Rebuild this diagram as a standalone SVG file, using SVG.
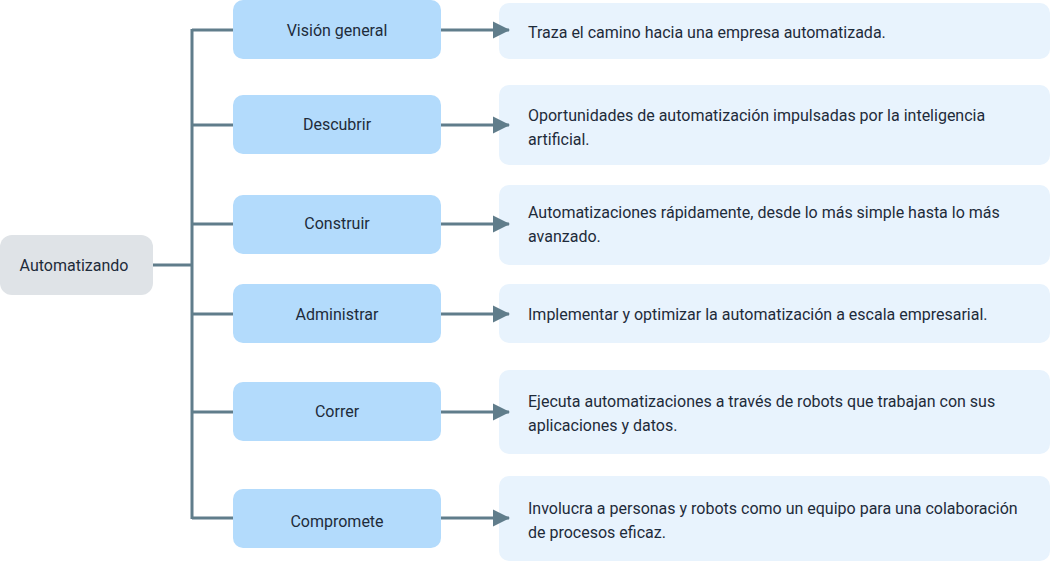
<svg xmlns="http://www.w3.org/2000/svg" width="1050" height="561" viewBox="0 0 1050 561">
<defs>
<style>
.root{fill:#dfe3e7}
.mid{fill:#b3dbfc}
.desc{fill:#e8f3fd}
text{font-family:Roboto,"Liberation Sans",sans-serif;font-size:16px;fill:#1e2b3a}
.c{text-anchor:middle}
.ln{stroke:#607d8b;stroke-width:3;fill:none}
</style>
<marker id="ah" markerWidth="17" markerHeight="18" refX="16" refY="9" orient="auto" markerUnits="userSpaceOnUse">
<path d="M0,0.5 L17,9 L0,17.5 z" fill="#607d8b"/>
</marker>
</defs>
<rect width="1050" height="561" fill="#fff"/>
<g id="n-root"><rect class="root" x="0" y="235" width="153" height="60" rx="12"/><text class="c" x="74" y="271">Automatizando</text></g>
<g id="n-vision"><rect class="mid" x="233" y="0" width="208" height="59" rx="10"/><text class="c" x="337" y="36">Visión general</text></g>
<g id="n-descubrir"><rect class="mid" x="233" y="95" width="208" height="59" rx="10"/><text class="c" x="337" y="130">Descubrir</text></g>
<g id="n-construir"><rect class="mid" x="233" y="195" width="208" height="59" rx="10"/><text class="c" x="337" y="229">Construir</text></g>
<g id="n-administrar"><rect class="mid" x="233" y="284" width="208" height="59" rx="10"/><text class="c" x="337" y="320">Administrar</text></g>
<g id="n-correr"><rect class="mid" x="233" y="382" width="208" height="59" rx="10"/><text class="c" x="337" y="417">Correr</text></g>
<g id="n-comprometer"><rect class="mid" x="233" y="489" width="208" height="59" rx="10"/><text class="c" x="337" y="527">Compromete</text></g>
<g id="d-vision"><rect class="desc" x="499" y="3" width="551" height="56" rx="10"/><text x="528" y="38">Traza el camino hacia una empresa automatizada.</text></g>
<g id="d-descubrir"><rect class="desc" x="499" y="85" width="551" height="80" rx="10"/><text x="528" y="121">Oportunidades de automatización impulsadas por la inteligencia</text><text x="528" y="145">artificial.</text></g>
<g id="d-construir"><rect class="desc" x="499" y="185" width="551" height="80" rx="10"/><text x="528" y="218">Automatizaciones rápidamente, desde lo más simple hasta lo más</text><text x="528" y="242">avanzado.</text></g>
<g id="d-administrar"><rect class="desc" x="499" y="284" width="551" height="59" rx="10"/><text x="528" y="320">Implementar y optimizar la automatización a escala empresarial.</text></g>
<g id="d-correr"><rect class="desc" x="499" y="370" width="551" height="84" rx="10"/><text x="528" y="407">Ejecuta automatizaciones a través de robots que trabajan con sus</text><text x="528" y="431">aplicaciones y datos.</text></g>
<g id="d-comprometer"><rect class="desc" x="499" y="476" width="551" height="85" rx="10"/><text x="528" y="514">Involucra a personas y robots como un equipo para una colaboración</text><text x="528" y="538">de procesos eficaz.</text></g>
<g id="connectors">
<path class="ln" d="M153,265 H192 M192,29 V519 M192,30 H233 M192,125 H233 M192,224 H233 M192,314 H233 M192,412 H233 M192,518 H233"/>
<path class="ln" marker-end="url(#ah)" d="M441,30 H509"/>
<path class="ln" marker-end="url(#ah)" d="M441,125 H509"/>
<path class="ln" marker-end="url(#ah)" d="M441,224 H509"/>
<path class="ln" marker-end="url(#ah)" d="M441,314 H509"/>
<path class="ln" marker-end="url(#ah)" d="M441,412 H509"/>
<path class="ln" marker-end="url(#ah)" d="M441,518 H509"/>
</g>
</svg>
